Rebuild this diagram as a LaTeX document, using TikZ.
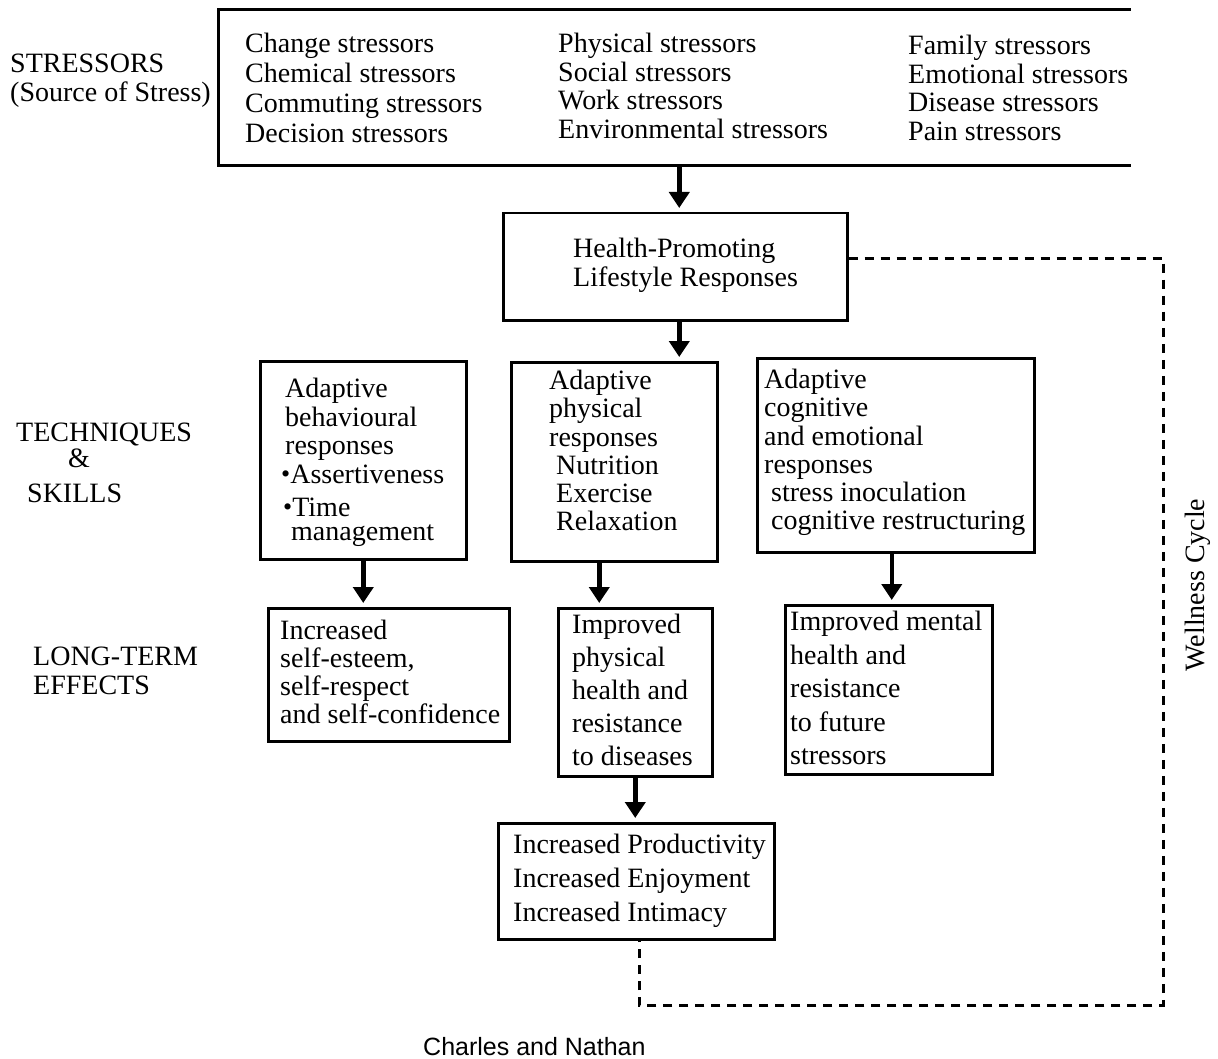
\documentclass[tikz,border=0pt]{standalone}
\usepackage{fontspec}
\setmainfont{Liberation Serif}
\newfontfamily\capfont{Liberation Sans}
\usetikzlibrary{arrows.meta}
\newcommand{\bul}{\raisebox{1pt}{\fontsize{26}{26}\selectfont\textbullet}}
\begin{document}
\begin{tikzpicture}[x=1pt,y=-1pt,
  box/.style={draw, line width=2.5pt, inner sep=0pt, anchor=north west},
  txt/.style={anchor=north west, inner sep=0pt, align=left, font=\fontsize{28}{#1}\selectfont},
  txt/.default=28.5,
  arr/.style={line width=4.5pt, -{Triangle[width=20pt,length=16pt]}, shorten >=4pt},
  wc/.style={line width=3pt, dash pattern=on 9pt off 7pt}]
\useasboundingbox[fill=white] (0,0) rectangle (1218,1059);

% side labels
\node[txt=29] (lstress) at (10,54) {STRESSORS\\(Source of Stress)};
\node[txt=29] (ltech) at (16,423) {TECHNIQUES\\[-3pt]\hspace*{52pt}\&\\[6pt]\hspace*{11pt}SKILLS};
\node[txt=29] (lterm) at (33,647) {LONG-TERM\\EFFECTS};

% stressors box (open on the right)
\node[box, draw=none, minimum width=910pt, minimum height=153pt] (top) at (218,10) {};
\draw[line width=3pt] (top.north east) -- (top.north west) -- (top.south west) -- (top.south east);
\node[txt=30] (s1) at (245,33) {Change stressors\\Chemical stressors\\Commuting stressors\\Decision stressors};
\node[txt=28.5] (s2) at (558,33) {Physical stressors\\Social stressors\\Work stressors\\Environmental stressors};
\node[txt=28.5] (s3) at (908,35) {Family stressors\\Emotional stressors\\Disease stressors\\Pain stressors};

% health-promoting box
\node[box, minimum width=344pt, minimum height=107pt] (hp) at (502,212) {};
\node[txt=29] (hpt) at (573,238) {Health-Promoting\\Lifestyle Responses};

% techniques boxes
\node[box, minimum width=206pt, minimum height=198pt] (A) at (259,360) {};
\node[txt=28.5] (At) at (281,378) {\hspace*{4pt}Adaptive\\\hspace*{4pt}behavioural\\\hspace*{4pt}responses\\\bul Assertiveness\\[5pt]\hspace*{2pt}\bul Time\\[-5pt]\hspace*{10pt}management};

\node[box, minimum width=206pt, minimum height=199pt] (B) at (510,361) {};
\node[txt=28.2] (Bt) at (549,370) {Adaptive\\physical\\responses\\\hspace*{7pt}Nutrition\\\hspace*{7pt}Exercise\\\hspace*{7pt}Relaxation};

\node[box, minimum width=277pt, minimum height=194pt] (C) at (756,357) {};
\node[txt=28.2] (Ct) at (764,369) {Adaptive\\cognitive\\and emotional\\responses\\\hspace*{7pt}stress inoculation\\\hspace*{7pt}cognitive restructuring};

% long-term effects boxes
\node[box, minimum width=241pt, minimum height=133pt] (D) at (267,607) {};
\node[txt=28] (Dt) at (280,620) {Increased\\self-esteem,\\self-respect\\and self-confidence};

\node[box, minimum width=154pt, minimum height=168pt] (E) at (557,607) {};
\node[txt=33] (Et) at (572,614) {Improved\\physical\\health and\\resistance\\to diseases};

\node[box, minimum width=207pt, minimum height=169pt] (F) at (784,604) {};
\node[txt=33.5] (Ft) at (790,611) {Improved mental\\health and\\resistance\\to future\\stressors};

\node[box, minimum width=276pt, minimum height=116pt] (G) at (497,822) {};
\node[txt=34] (Gt) at (513,834) {Increased Productivity\\Increased Enjoyment\\Increased Intimacy};

% arrows
\draw[arr] ([xshift=4pt]hp.north |- top.south) -- ([xshift=4pt]hp.north);
\draw[arr] ([xshift=4pt]hp.south) -- ([xshift=4pt]hp.south |- B.north);
\draw[arr] (A.south) -- (A.south |- D.north);
\draw[arr] ([xshift=-15pt]B.south) -- ([xshift=-15pt]B.south |- E.north);
\draw[arr] ([xshift=-4pt]C.south) -- ([xshift=-4pt]C.south |- F.north);
\draw[arr] (E.south) -- (E.south |- G.north);

% wellness cycle
\coordinate (wcorner) at (1163,1005);
\draw[wc] ([yshift=8.5pt]hp.east) -| (wcorner) -| ([xshift=3pt]G.south);
\node[font=\fontsize{28}{28}\selectfont, rotate=90, anchor=center] (wct) at (1198,585) {Wellness Cycle};

% source
\node[font=\capfont\fontsize{25}{25}\selectfont, anchor=north west, inner sep=0pt] (src) at (423,1037) {Charles and Nathan};
\end{tikzpicture}
\end{document}
